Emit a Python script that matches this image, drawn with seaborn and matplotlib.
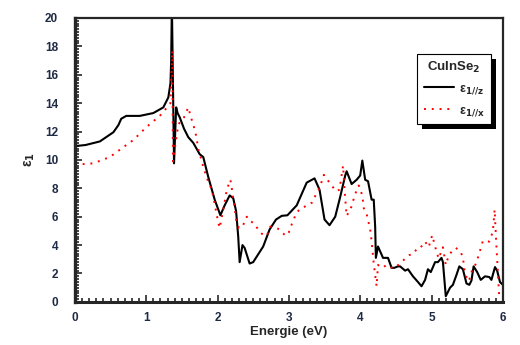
import matplotlib
matplotlib.use("Agg")
import matplotlib.pyplot as plt
import pandas as pd
import seaborn as sns
from matplotlib.patches import Rectangle
from matplotlib.transforms import IdentityTransform
from matplotlib.ticker import MultipleLocator

# eps_1 along z (solid black)
energy_z = [0.00, 0.15, 0.35, 0.54, 0.61, 0.65, 0.72, 0.91, 1.10, 1.24, 1.31, 1.34, 1.35, 1.36,
            1.39, 1.42, 1.44, 1.47, 1.53, 1.59, 1.66, 1.75, 1.80, 1.87, 1.96, 2.04, 2.10, 2.17,
            2.22, 2.26, 2.29, 2.31, 2.35, 2.38, 2.45, 2.50, 2.64, 2.73, 2.82, 2.90, 2.98, 3.11,
            3.25, 3.36, 3.43, 3.50, 3.57, 3.65, 3.72, 3.79, 3.81, 3.88, 3.95, 4.00, 4.03, 4.07,
            4.11, 4.16, 4.19, 4.21, 4.22, 4.25, 4.32, 4.39, 4.44, 4.48, 4.53, 4.56, 4.63, 4.67,
            4.74, 4.81, 4.86, 4.91, 4.95, 4.99, 5.05, 5.09, 5.14, 5.16, 5.20, 5.26, 5.30, 5.35,
            5.39, 5.44, 5.49, 5.53, 5.56, 5.59, 5.64, 5.69, 5.75, 5.81, 5.84, 5.89, 5.92, 5.96, 6.00]
eps_z = [10.97, 11.05, 11.3, 11.95, 12.45, 12.9, 13.1, 13.1, 13.3, 13.7, 14.4, 15.4, 17.0, 21.0,
         9.76, 13.7, 13.3, 13.0, 12.2, 11.6, 11.2, 10.4, 10.2, 8.8, 7.2, 6.1, 6.8, 7.5,
         7.3, 6.4, 4.6, 2.8, 4.0, 3.8, 2.7, 2.8, 3.9, 5.1, 5.8, 6.06, 6.1, 6.8,
         8.4, 8.7, 7.9, 5.8, 5.4, 6.0, 7.4, 8.9, 9.2, 8.3, 8.6, 8.9, 9.95, 8.6,
         8.5, 7.2, 7.2, 5.3, 3.1, 3.9, 3.1, 3.1, 2.4, 2.4, 2.5, 2.5, 2.2, 2.3,
         1.8, 1.4, 1.1, 1.55, 2.3, 2.1, 2.8, 2.8, 3.1, 2.8, 0.4, 1.0, 1.2, 1.9,
         2.5, 2.3, 1.3, 1.2, 1.5, 2.5, 2.1, 1.55, 1.8, 1.75, 1.55, 2.45, 2.2, 1.4, 1.2]

# eps_1 along x (dotted red)
energy_x = [0.00, 0.26, 0.49, 0.68, 0.82, 1.00, 1.19, 1.31, 1.34, 1.365, 1.375, 1.45, 1.53, 1.59,
            1.63, 1.66, 1.70, 1.74, 1.77, 1.80, 1.86, 1.92, 1.96, 2.01, 2.03, 2.08, 2.13, 2.18,
            2.20, 2.24, 2.26, 2.30, 2.35, 2.41, 2.45, 2.51, 2.57, 2.62, 2.69, 2.74, 2.85, 2.90,
            2.96, 3.00, 3.05, 3.11, 3.17, 3.22, 3.28, 3.33, 3.39, 3.43, 3.49, 3.54, 3.60, 3.66,
            3.71, 3.76, 3.78, 3.81, 3.87, 3.93, 3.98, 4.03, 4.05, 4.09, 4.14, 4.16, 4.19, 4.21,
            4.23, 4.25, 4.31, 4.37, 4.46, 4.51, 4.58, 4.64, 4.69, 4.75, 4.80, 4.85, 4.91, 4.96,
            5.01, 5.05, 5.10, 5.16, 5.20, 5.24, 5.29, 5.34, 5.40, 5.44, 5.46, 5.49, 5.51, 5.55,
            5.57, 5.61, 5.66, 5.72, 5.77, 5.81, 5.86, 5.885, 5.905, 5.95]
eps_x = [9.66, 9.76, 10.2, 10.9, 11.4, 12.3, 13.1, 13.8, 14.0, 17.7, 9.9, 12.5, 13.0, 13.7,
         12.95, 12.5, 11.7, 10.5, 10.1, 9.5, 8.6, 7.9, 6.9, 5.6, 5.2, 6.5, 7.9, 8.6,
         8.0, 6.6, 5.8, 5.2, 5.3, 6.0, 5.7, 5.55, 5.1, 4.8, 4.65, 5.3, 5.15, 4.9,
         4.65, 4.9, 5.6, 6.3, 6.6, 6.7, 6.9, 7.0, 7.7, 8.0, 8.95, 8.6, 8.2, 7.8,
         7.9, 9.6, 7.9, 6.05, 6.6, 7.6, 8.2, 7.5, 6.6, 6.2, 5.1, 4.3, 2.7, 1.9,
         1.1, 2.6, 2.4, 2.6, 2.35, 2.5, 2.8, 3.1, 3.3, 3.4, 3.8, 3.85, 4.25, 3.85,
         4.7, 3.9, 3.05, 3.85, 2.6, 3.25, 3.6, 3.8, 3.6, 3.15, 2.3, 1.75, 1.45, 1.75,
         2.3, 2.55, 3.25, 4.3, 4.25, 4.25, 4.95, 6.5, 4.4, 0.3]

x_ticks = [0, 1, 2, 3, 4, 5, 6]
y_ticks = [0, 2, 4, 6, 8, 10, 12, 14, 16, 18, 20]

sns.set_style("ticks")
plt.rcParams["font.family"] = ["Liberation Sans", "DejaVu Sans"]
plt.rcParams["mathtext.default"] = "bf"

df_z = pd.DataFrame({"energy": energy_z, "eps": eps_z})
df_x = pd.DataFrame({"energy": energy_x, "eps": eps_x})

fig = plt.figure(figsize=(5.2, 3.45), dpi=100)
ax = fig.add_axes([0.144, 0.125, 0.823, 0.823])

sns.lineplot(data=df_z, x="energy", y="eps", ax=ax, color="black", linewidth=1.5,
             estimator=None, sort=False, label="ε$_{1//z}$")
sns.lineplot(data=df_x, x="energy", y="eps", ax=ax, color="red", linewidth=1.4,
             estimator=None, sort=False, label="ε$_{1//x}$")
ax.lines[1].set_linestyle((0, (1, 3)))

ax.set_xlim(0, 6)
ax.set_ylim(0, 20)
ax.set_xticks(x_ticks)
ax.set_yticks(y_ticks)
ax.xaxis.set_minor_locator(MultipleLocator(0.1))
ax.yaxis.set_minor_locator(MultipleLocator(0.2))
ax.tick_params(which="both", direction="in", top=False, right=False,
               labelsize=8.5, labelcolor="#1f2a44", width=1.2)
ax.tick_params(which="major", length=5)
ax.tick_params(which="minor", length=3)
ax.tick_params(axis="y", which="major", pad=12)
ax.tick_params(axis="x", which="major", pad=7)
for lab in ax.get_xticklabels() + ax.get_yticklabels():
    lab.set_fontweight("bold")

for side in ["top", "right"]:
    ax.spines[side].set_linewidth(1.6)
ax.spines["left"].set_linewidth(2.4)
ax.spines["bottom"].set_linewidth(2.2)

ax.set_xlabel("Energie (eV)", fontsize=9.5, fontweight="bold", labelpad=2)
ax.set_ylabel("ε$_1$", fontsize=10, fontweight="bold")
ax.yaxis.set_label_coords(-0.088, 0.5)

leg = ax.legend(loc="upper right", bbox_to_anchor=(0.972, 0.873), borderaxespad=0,
                title="CuInSe$_2$", frameon=True, fancybox=False, edgecolor="black",
                framealpha=1, fontsize=9, handlelength=2.4, handletextpad=0.4,
                borderpad=0.5, labelspacing=0.6)
leg.get_title().set_fontweight("bold")
leg.get_title().set_fontsize(9.5)
leg.get_frame().set_linewidth(0.8)
for t in leg.get_texts():
    t.set_fontweight("bold")

# solid black drop shadow behind the legend box
fig.canvas.draw()
bb = leg.get_window_extent()
shadow = Rectangle((bb.x0 + 5, bb.y0 - 5), bb.width, bb.height, transform=IdentityTransform(),
                   facecolor="black", edgecolor="none", zorder=leg.get_zorder() - 0.1,
                   clip_on=False)
ax.add_patch(shadow)

fig.savefig("out.png", dpi=100)
